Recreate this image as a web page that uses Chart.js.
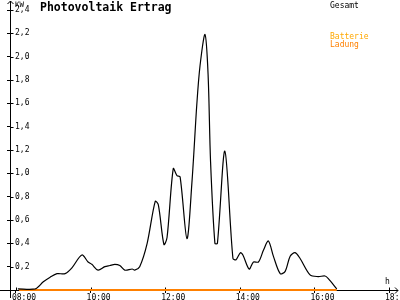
<!DOCTYPE html>
<html>
<head>
<meta charset="utf-8">
<script src="https://cdn.jsdelivr.net/npm/chart.js@4/dist/chart.umd.min.js"></script>
<style>
  html, body { margin: 0; padding: 0; background: #fff; overflow: hidden; }
  canvas { display: block; }
</style>
</head>
<body>
<canvas id="c" width="400" height="300"></canvas>
<script>
// ---- data ----
const gesamtTimes = ['08:03','08:31','08:44','08:55','09:06','09:19','09:30','09:46','09:56','10:02','10:12','10:23','10:31','10:39','10:47','10:55','11:07','11:11','11:19','11:31','11:44','11:49','11:58','12:03','12:13','12:19','12:24','12:35','12:43','12:51','12:56','13:04','13:09','13:13','13:20','13:24','13:36','13:49','13:54','14:01','14:05','14:15','14:22','14:30','14:38','14:46','14:54','15:05','15:13','15:21','15:29','15:37','15:53','16:06','16:17','16:22','16:36'];
const gesamtValues = [0.01,0.01,0.07,0.11,0.14,0.14,0.19,0.30,0.24,0.22,0.17,0.20,0.21,0.22,0.21,0.17,0.18,0.17,0.20,0.40,0.76,0.73,0.39,0.45,1.04,0.98,0.97,0.44,0.92,1.60,1.92,2.19,1.85,1.10,0.40,0.40,1.19,0.27,0.26,0.32,0.30,0.18,0.24,0.24,0.34,0.42,0.29,0.14,0.16,0.29,0.32,0.27,0.13,0.115,0.12,0.10,0.01];
const ladungTimes = ['08:05','16:36'];
const ladungValues = [0, 0];
const xTickValues = [8, 10, 12, 14, 16, 18];
const yTickValues = [0.2, 0.4, 0.6, 0.8, 1.0, 1.2, 1.4, 1.6, 1.8, 2.0, 2.2, 2.4];
const titleText = 'Photovoltaik Ertrag';
const unitY = 'KW';
const unitX = 'h';
const legendGesamt = 'Gesamt';
const legendBatterie = 'Batterie';
const legendLadung = 'Ladung';

function toHours(s) { const [h, m] = s.split(':').map(Number); return h + m / 60; }
function fmtHour(v) { return String(Math.round(v)).padStart(2, '0') + ':00'; }

const MONO = 'DejaVu Sans Mono';

const decor = {
  id: 'decor',
  beforeDatasetsDraw(chart) {
    const ctx = chart.ctx;
    const xs = chart.scales.x, ys = chart.scales.y;
    const ax = Math.round(xs.getPixelForValue(xs.min)) + 0.5; // y-axis line x
    const ay = Math.round(ys.getPixelForValue(0)) + 0.5;      // x-axis line y
    ctx.save();
    ctx.strokeStyle = '#000';
    ctx.lineWidth = 1;
    ctx.beginPath();
    // extended y axis + arrow
    ctx.moveTo(ax, 298); ctx.lineTo(ax, 1);
    ctx.moveTo(ax - 3, 4); ctx.lineTo(ax, 1); ctx.lineTo(ax + 3, 4);
    // extended x axis + arrow
    ctx.moveTo(0, ay); ctx.lineTo(398, ay);
    ctx.moveTo(395, ay - 3); ctx.lineTo(398, ay); ctx.lineTo(395, ay + 3);
    // inward halves of tick marks
    ys.ticks.forEach(t => {
      const py = Math.round(ys.getPixelForValue(t.value)) + 0.5;
      ctx.moveTo(ax, py); ctx.lineTo(ax + 3, py);
    });
    xs.ticks.forEach(t => {
      const px = Math.round(xs.getPixelForValue(t.value)) + 0.5;
      ctx.moveTo(px, ay); ctx.lineTo(px, ay - 3);
    });
    ctx.stroke();
    ctx.restore();
  },
  afterDraw(chart) {
    const ctx = chart.ctx;
    ctx.save();
    ctx.textBaseline = 'alphabetic';
    ctx.textAlign = 'left';
    ctx.fillStyle = '#000';
    ctx.font = 'bold 11.5px "' + MONO + '"';
    ctx.fillText(titleText, 40, 11);
    ctx.font = '7.5px "' + MONO + '"';
    ctx.fillText(unitY, 15, 7);
    ctx.font = '8px "' + MONO + '"';
    ctx.fillText(unitX, 385, 284);
    ctx.fillText(legendGesamt, 330, 8);
    ctx.fillStyle = '#ffa800';
    ctx.fillText(legendBatterie, 330, 39);
    ctx.fillStyle = '#ff8000';
    ctx.fillText(legendLadung, 330, 47);
    ctx.restore();
  }
};

new Chart(document.getElementById('c'), {
  type: 'line',
  data: {
    datasets: [
      {
        label: legendGesamt,
        data: gesamtTimes.map((t, i) => ({ x: toHours(t), y: gesamtValues[i] })),
        borderColor: '#000',
        borderWidth: 1.2,
        pointRadius: 0,
        tension: 0.3,
        fill: false,
        clip: 5
      },
      {
        label: legendLadung,
        data: ladungTimes.map((t, i) => ({ x: toHours(t), y: ladungValues[i] })),
        borderColor: '#ff8000',
        borderWidth: 2,
        pointRadius: 0,
        fill: false,
        clip: 5
      }
    ]
  },
  options: {
    responsive: false,
    animation: false,
    events: [],
    layout: { padding: { left: 0, right: 0, top: 10, bottom: 0 } },
    plugins: { legend: { display: false }, tooltip: { enabled: false }, title: { display: false } },
    scales: {
      x: {
        type: 'linear',
        min: 7.84,
        max: 18,
        afterBuildTicks: s => { s.ticks = xTickValues.map(v => ({ value: v })); },
        afterFit: s => { s.height = 10; s.paddingLeft = 0; s.paddingRight = 11; },
        grid: { drawOnChartArea: false, drawTicks: true, tickLength: 3, color: '#000', lineWidth: 1 },
        border: { display: true, color: '#000', width: 1 },
        ticks: {
          padding: 0,
          align: 'start',
          labelOffset: -4,
          maxRotation: 0,
          autoSkip: false,
          color: '#000',
          font: { family: MONO, size: 8 },
          callback: v => fmtHour(v)
        }
      },
      y: {
        min: 0,
        max: 2.4,
        afterBuildTicks: s => { s.ticks = yTickValues.map(v => ({ value: v })); },
        afterFit: s => { s.width = 10; s.paddingTop = 0; s.paddingBottom = 0; },
        grid: { drawOnChartArea: false, drawTicks: true, tickLength: 3, color: '#000', lineWidth: 1 },
        border: { display: true, color: '#000', width: 1 },
        ticks: {
          mirror: true,
          padding: 5,
          autoSkip: false,
          color: '#000',
          font: { family: MONO, size: 8 },
          callback: v => Number(v).toFixed(1).replace('.', ',')
        }
      }
    }
  },
  plugins: [decor]
});
</script>
</body>
</html>
